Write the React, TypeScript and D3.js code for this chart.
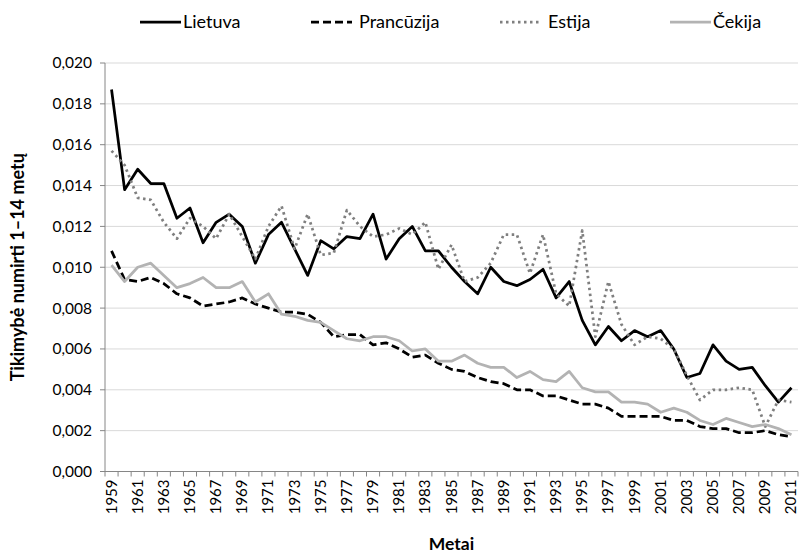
import React from "react";
import * as d3 from "d3";

const years: number[] = d3.range(1959, 2012);

const lietuva: number[] = [
  0.0187, 0.0138, 0.0148, 0.0141, 0.0141, 0.0124, 0.0129, 0.0112, 0.0122, 0.0126,
  0.0120, 0.0102, 0.0116, 0.0122, 0.0109, 0.0096, 0.0113, 0.0109, 0.0115, 0.0114,
  0.0126, 0.0104, 0.0114, 0.0120, 0.0108, 0.0108, 0.0100, 0.0093, 0.0087, 0.0100,
  0.0093, 0.0091, 0.0094, 0.0099, 0.0085, 0.0093, 0.0074, 0.0062, 0.0071, 0.0064,
  0.0069, 0.0066, 0.0069, 0.0060, 0.0046, 0.0048, 0.0062, 0.0054, 0.0050, 0.0051,
  0.0042, 0.0034, 0.0041,
];

const prancuzija: number[] = [
  0.0108, 0.0094, 0.0093, 0.0095, 0.0092, 0.0087, 0.0085, 0.0081, 0.0082, 0.0083,
  0.0085, 0.0082, 0.0080, 0.0078, 0.0078, 0.0077, 0.0073, 0.0066, 0.0067, 0.0067,
  0.0062, 0.0063, 0.0060, 0.0056, 0.0057, 0.0053, 0.0050, 0.0049, 0.0046, 0.0044,
  0.0043, 0.0040, 0.0040, 0.0037, 0.0037, 0.0035, 0.0033, 0.0033, 0.0031, 0.0027,
  0.0027, 0.0027, 0.0027, 0.0025, 0.0025, 0.0022, 0.0021, 0.0021, 0.0019, 0.0019,
  0.0020, 0.0018, 0.0017,
];

const estija: number[] = [
  0.0157, 0.0150, 0.0134, 0.0133, 0.0122, 0.0114, 0.0124, 0.0120, 0.0114, 0.0126,
  0.0115, 0.0104, 0.0120, 0.0130, 0.0109, 0.0126, 0.0106, 0.0107, 0.0128, 0.0120,
  0.0115, 0.0116, 0.0119, 0.0116, 0.0122, 0.0099, 0.0111, 0.0093, 0.0095, 0.0102,
  0.0116, 0.0116, 0.0097, 0.0116, 0.0087, 0.0081, 0.0118, 0.0066, 0.0093, 0.0072,
  0.0062, 0.0066, 0.0065, 0.0060, 0.0047, 0.0035, 0.0040, 0.0040, 0.0041, 0.0040,
  0.0022, 0.0035, 0.0034,
];

const cekija: number[] = [
  0.0101, 0.0093, 0.0100, 0.0102, 0.0096, 0.0090, 0.0092, 0.0095, 0.0090, 0.0090,
  0.0093, 0.0083, 0.0087, 0.0077, 0.0076, 0.0074, 0.0073, 0.0069, 0.0065, 0.0064,
  0.0066, 0.0066, 0.0064, 0.0059, 0.0060, 0.0054, 0.0054, 0.0057, 0.0053, 0.0051,
  0.0051, 0.0046, 0.0049, 0.0045, 0.0044, 0.0049, 0.0041, 0.0039, 0.0039, 0.0034,
  0.0034, 0.0033, 0.0029, 0.0031, 0.0029, 0.0025, 0.0023, 0.0026, 0.0024, 0.0022,
  0.0023, 0.0021, 0.0018,
];

const yTicks: number[] = d3.range(0, 0.0201, 0.002);
const xLabelYears: number[] = years.filter((y) => (y - 1959) % 2 === 0);

const seriesNames = ["Lietuva", "Prancūzija", "Estija", "Čekija"];

const W = 800;
const H = 555;
const left = 105;
const right = 798;
const top = 63;
const bottom = 471.5;
const FONT = "Lato, 'Open Sans', sans-serif";

export default function App() {
  const x = d3.scalePoint<number>().domain(years).range([left, right]).padding(0.5);
  const step = x.step();
  const y = d3.scaleLinear().domain([0, 0.02]).range([bottom, top]);
  const line = d3
    .line<number>()
    .x((_, i) => x(years[i]) as number)
    .y((d) => y(d));

  const fmt = (v: number) => d3.format(".3f")(v).replace(".", ",");

  const styles = [
    { data: lietuva, stroke: "#000000", dash: undefined as string | undefined, w: 2.75 },
    { data: prancuzija, stroke: "#000000", dash: "8 4", w: 2.75 },
    { data: estija, stroke: "#7f7f7f", dash: "2.5 3.5", w: 2.75 },
    { data: cekija, stroke: "#b3b3b3", dash: undefined as string | undefined, w: 2.75 },
  ];

  const legendX = [140, 311, 500, 670];
  const legendLen = 41;
  const legendY = 22;

  const boundaries = d3.range(0, years.length + 1).map((k) => left + k * step);

  return (
    <svg width={W} height={H} style={{ display: "block", position: "absolute", left: 0, top: 0, background: "#fff" }}>
      <rect width={W} height={H} fill="#fff" />
      {yTicks.map((t) => (
        <line key={"g" + t} x1={left} x2={right} y1={y(t)} y2={y(t)} stroke="#d9d9d9" strokeWidth={1} />
      ))}
      <line x1={left} x2={left} y1={top} y2={bottom} stroke="#868686" strokeWidth={1} />
      {yTicks.map((t) => (
        <g key={"yt" + t}>
          <line x1={left - 5} x2={left} y1={y(t)} y2={y(t)} stroke="#868686" />
          <text x={left - 13} y={y(t)} dy="0.35em" textAnchor="end" fontFamily={FONT} fontSize={15.5} fill="#000">
            {fmt(t)}
          </text>
        </g>
      ))}
      <line x1={left} x2={right} y1={bottom} y2={bottom} stroke="#868686" strokeWidth={1} />
      {boundaries.map((bx, k) => (
        <line key={"xt" + k} x1={bx} x2={bx} y1={bottom} y2={bottom + 5} stroke="#868686" />
      ))}
      {xLabelYears.map((yr) => (
        <text
          key={"xl" + yr}
          transform={`translate(${(x(yr) as number) + 5},${bottom + 8}) rotate(-90)`}
          textAnchor="end"
          fontFamily={FONT}
          fontSize={15}
          fill="#000"
        >
          {yr}
        </text>
      ))}
      {styles.map((s, i) => (
        <path
          key={"s" + i}
          d={line(s.data) as string}
          fill="none"
          stroke={s.stroke}
          strokeWidth={s.w}
          strokeDasharray={s.dash}
          strokeLinejoin="round"
        />
      ))}
      {seriesNames.map((n, i) => (
        <g key={"lg" + n}>
          <line
            x1={legendX[i]}
            x2={legendX[i] + legendLen}
            y1={legendY}
            y2={legendY}
            stroke={styles[i].stroke}
            strokeWidth={styles[i].w}
            strokeDasharray={styles[i].dash}
          />
          <text
            x={legendX[i] + legendLen + (i === 0 || i === 3 ? 2 : 7)}
            y={legendY}
            dy="0.35em"
            fontFamily={FONT}
            fontSize={18}
            fill="#000"
          >
            {n}
          </text>
        </g>
      ))}
      <text
        transform={`translate(24,${(top + bottom) / 2}) rotate(-90)`}
        textAnchor="middle"
        fontFamily={FONT}
        fontWeight="bold"
        fontSize={18}
        fill="#000"
      >
        Tikimybė numirti 1–14 metų
      </text>
      <text x={(left + right) / 2} y={550} textAnchor="middle" fontFamily={FONT} fontWeight="bold" fontSize={17.5} fill="#000">
        Metai
      </text>
    </svg>
  );
}
